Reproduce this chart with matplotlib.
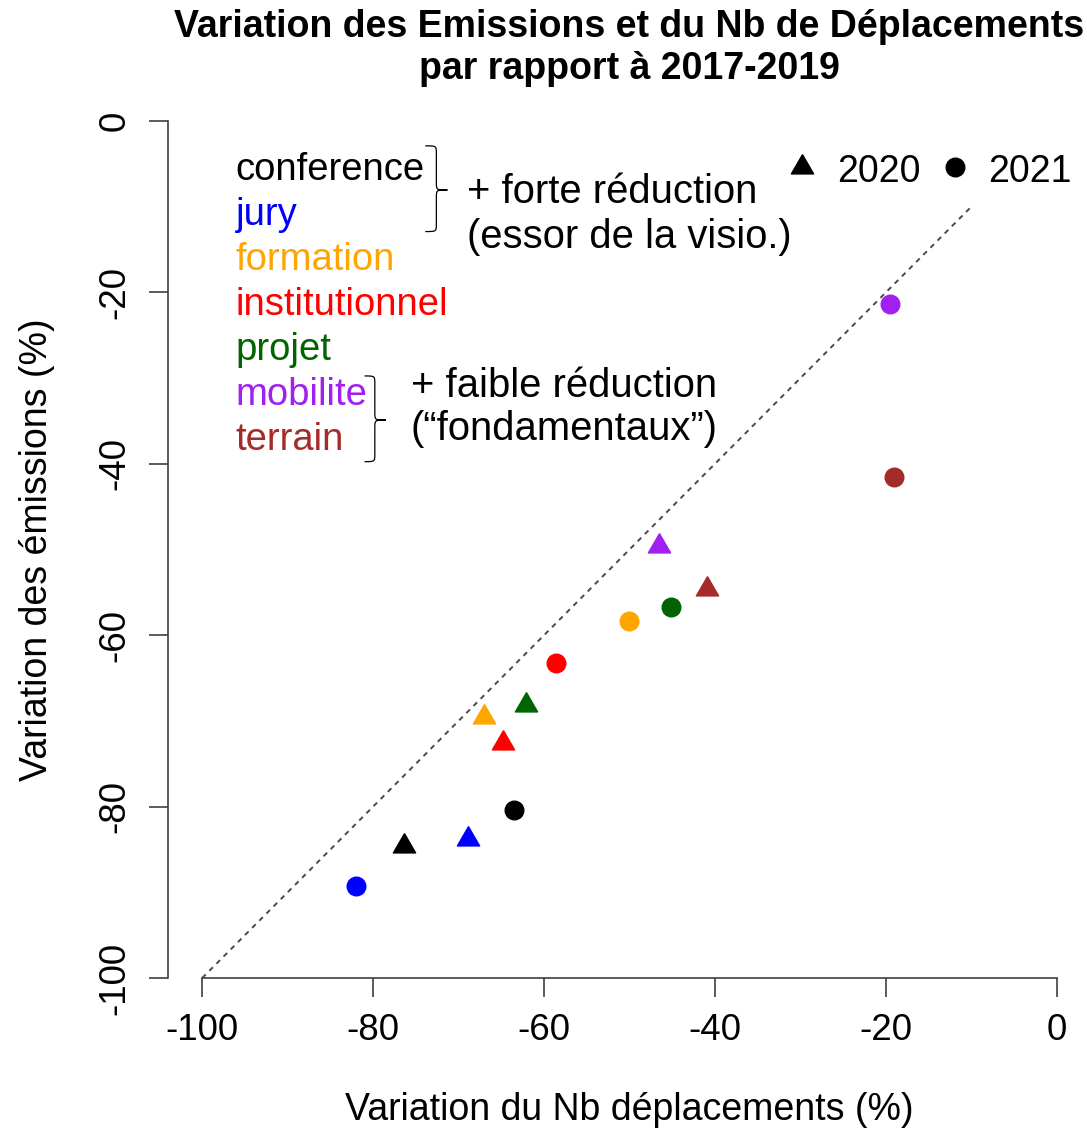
import matplotlib
matplotlib.use('Agg')
import matplotlib.pyplot as plt
from matplotlib.path import Path
from matplotlib.patches import PathPatch

plt.rcParams['font.family'] = ['Liberation Sans', 'DejaVu Sans']

# categories and colours (R colour names: black, blue, orange, red, darkgreen, purple, brown)
categories = ['conference', 'jury', 'formation', 'institutionnel', 'projet', 'mobilite', 'terrain']
colors = ['#000000', '#0000FF', '#FFA500', '#FF0000', '#006400', '#A020F0', '#A52A2A']

# variation vs 2017-2019 (%)
dep_2020 = [-76.4, -68.9, -67.0, -64.8, -62.1, -46.6, -40.9]
emi_2020 = [-84.6, -83.8, -69.6, -72.6, -68.1, -49.6, -54.6]
dep_2021 = [-63.5, -82.0, -50.1, -58.6, -45.1, -19.5, -19.1]
emi_2021 = [-80.4, -89.3, -58.4, -63.2, -56.7, -21.4, -41.5]

ticks = [-100, -80, -60, -40, -20, 0]

W, H = 1087, 1128
fig = plt.figure(figsize=(W / 100, H / 100), dpi=100)
ax = fig.add_axes([168 / W, (H - 978) / H, (1091 - 168) / W, (978 - 121) / H])
ax.set_xlim(-104, 4)
ax.set_ylim(-100, 0)

# triangle with its centroid on the point (like R pch 17)
tri = [(0, 1), (-0.866, -0.5), (0.866, -0.5), (0, 1)]

ax.plot([-100, -10], [-100, -10], color='#4a4a4a', lw=1.4, dashes=(2.6, 2.6), zorder=1)
for i in range(len(categories)):
    ax.plot(dep_2020[i], emi_2020[i], marker=tri, ms=18.5, color=colors[i], ls='none', zorder=3)
    ax.plot(dep_2021[i], emi_2021[i], marker='o', ms=13.4, color=colors[i], ls='none', zorder=3)

# R-like axes
for s in ['top', 'right']:
    ax.spines[s].set_visible(False)
ax.spines['left'].set_bounds(-100, 0)
ax.spines['bottom'].set_bounds(-100, 0)
for s in ['left', 'bottom']:
    ax.spines[s].set_color('#404040')
    ax.spines[s].set_linewidth(1.2)
ax.set_xticks(ticks)
ax.set_yticks(ticks)
ax.set_xticklabels([str(t) for t in ticks])
ax.set_yticklabels([str(t) for t in ticks], rotation=90, va='center')
ax.tick_params(axis='both', length=13.5, width=1.2, color='#404040', labelsize=26.5)
ax.tick_params(axis='x', pad=12)
ax.tick_params(axis='y', pad=12)

# legend of categories (coloured names)
for i, (name, col) in enumerate(zip(categories, colors)):
    ax.text(-96.1, -6.9 - 5.25 * i, name, color=col, fontsize=27.5, va='baseline', ha='left')

# year legend
ax.plot(-29.8, -5.4, marker=tri, ms=18.5, color='black', ls='none', clip_on=False)
ax.text(-25.7, -7.08, '2020', fontsize=27, va='baseline', ha='left')
ax.plot(-11.9, -5.4, marker='o', ms=13.4, color='black', ls='none', clip_on=False)
ax.text(-8.05, -7.08, '2021', fontsize=27, va='baseline', ha='left')


def brace(x0, xs, xt, yt, ym, yb, c=0.9):
    verts = [(x0, yt), (xs, yt), (xs, yt), (xs, yt - c),
             (xs, ym + c),
             (xs, ym), (xs, ym), (xt, ym),
             (xs, ym), (xs, ym), (xs, ym - c),
             (xs, yb + c),
             (xs, yb), (xs, yb), (x0, yb)]
    codes = [Path.MOVETO, Path.CURVE4, Path.CURVE4, Path.CURVE4,
             Path.LINETO,
             Path.CURVE4, Path.CURVE4, Path.CURVE4,
             Path.CURVE4, Path.CURVE4, Path.CURVE4,
             Path.LINETO,
             Path.CURVE4, Path.CURVE4, Path.CURVE4]
    ax.add_patch(PathPatch(Path(verts, codes), fill=False, lw=0.9, color='black'))


brace(-73.9, -72.6, -71.3, -2.9, -8.05, -12.9)
brace(-81.0, -79.8, -78.5, -29.75, -34.9, -39.75)

ax.text(-69.0, -9.53, '+ forte réduction', fontsize=28.8, va='baseline')
ax.text(-69.0, -14.82, '(essor de la visio.)', fontsize=28.8, va='baseline')
ax.text(-75.6, -32.2, '+ faible réduction', fontsize=28.8, va='baseline')
ax.text(-75.6, -37.2, '(\u201cfondamentaux\u201d)', fontsize=28.8, va='baseline')

# titles and axis labels
xc = 629.5 / W
fig.text(xc, 1 - 37 / H, 'Variation des Emissions et du Nb de Déplacements',
         fontsize=27, fontweight='bold', ha='center', va='baseline')
fig.text(xc, 1 - 79 / H, 'par rapport à 2017-2019',
         fontsize=27, fontweight='bold', ha='center', va='baseline')
fig.text(xc, 1 - 1120 / H, 'Variation du Nb déplacements (%)',
         fontsize=27, ha='center', va='baseline')
fig.text(47 / W, 1 - 549.5 / H, 'Variation des émissions (%)',
         fontsize=27, ha='center', va='baseline', rotation=90, rotation_mode='anchor')

fig.savefig('out.png', dpi=100)
